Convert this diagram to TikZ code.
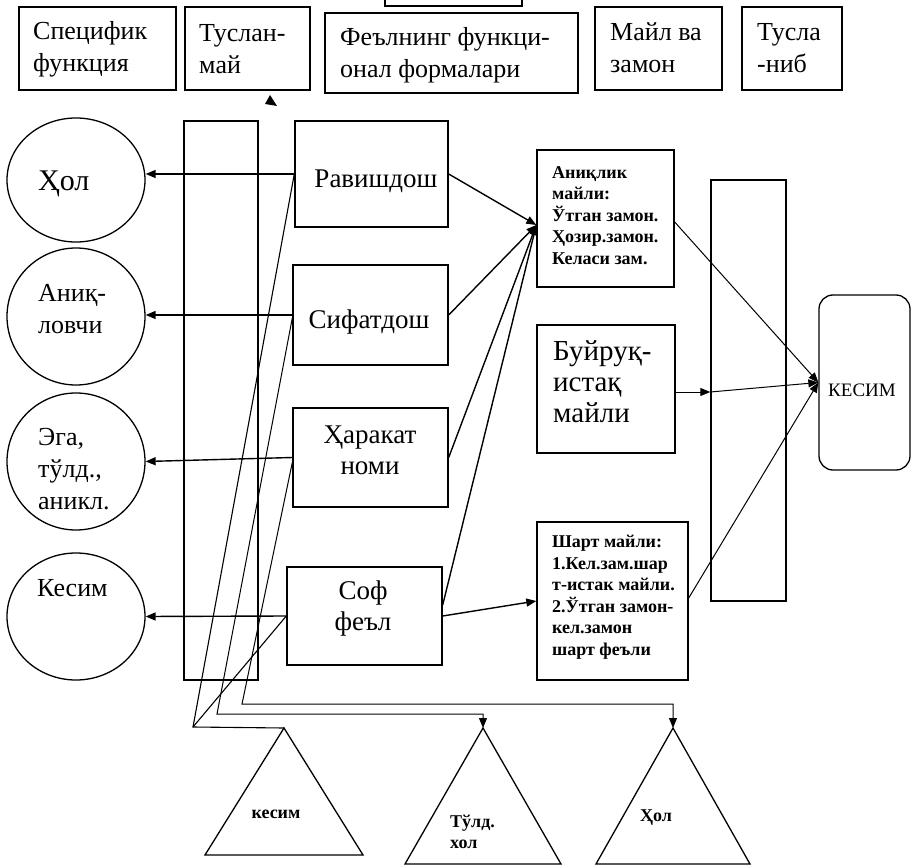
\documentclass[tikz,border=0pt]{standalone}
\usepackage{fontspec}
\setmainfont{Liberation Serif}
\usetikzlibrary{shapes.geometric,arrows.meta}
\begin{document}
\begin{tikzpicture}[x=1pt,y=-1pt,
  box/.style={draw, line width=1.4pt, rectangle, inner sep=0pt},
  circ/.style={draw, line width=1.3pt, ellipse, inner sep=0pt},
  txt/.style={inner sep=0pt, align=left},
  ctxt/.style={inner sep=0pt, align=center},
  big/.style={font=\fontsize{26}{32}\selectfont},
  mid/.style={font=\fontsize{27}{31}\selectfont},
  sml/.style={font=\bfseries\fontsize{18}{21.5}\selectfont},
  conn/.style={line width=1.1pt},
  arr/.style={line width=1.4pt, -{Triangle[length=10pt,width=8pt]}},
  tarr/.style={line width=1pt, -{Triangle[length=10pt,width=8pt]}}
]
\useasboundingbox (0,0) rectangle (915,866);
\clip (0,0) rectangle (915,866);

% top row
\node[box, minimum width=157pt, minimum height=83pt] (spec) at (97.5,48.5) {};
\node[txt, big, anchor=west] (specT) at (33,49) {Специфик\\функция};
\node[box, minimum width=125pt, minimum height=83pt] (tusl) at (247.5,48.5) {};
\node[txt, big, anchor=west] (tuslT) at (199,49) {Туслан-\\май};
\node[box, minimum width=253pt, minimum height=80pt] (feol) at (451.5,53) {};
\node[txt, big, anchor=west] (feolT) at (340,55) {Феълнинг функци-\\онал формалари};
\node[box, minimum width=127pt, minimum height=83pt] (mayl) at (658.5,48.5) {};
\node[txt, big, anchor=west] (maylT) at (610,48) {Майл ва\\замон};
\node[box, minimum width=100pt, minimum height=83pt] (nib) at (792,48.5) {};
\node[txt, big, anchor=west] (nibT) at (757,48) {Тусла\\-ниб};
\node[box, minimum width=137pt, minimum height=40pt] (topbox) at (453.5,-14) {};
\fill (270,95) -- (277,106) -- (265,104) -- cycle;

% circles
\node[circ, minimum width=138pt, minimum height=124pt] (hol) at (76,180) {};
\node[txt, font=\fontsize{30}{34}\selectfont, anchor=west] (holT) at (38,184) {Ҳол};
\node[circ, minimum width=138pt, minimum height=137pt] (ank) at (76,316.5) {};
\node[txt, big, anchor=west] (ankT) at (38,309) {Аниқ-\\ловчи};
\node[circ, minimum width=138pt, minimum height=137pt] (ega) at (76,461.5) {};
\node[txt, big, anchor=west] (egaT) at (38,469) {Эга,\\тўлд.,\\аникл.};
\node[circ, minimum width=138pt, minimum height=127pt] (kes) at (76,616.5) {};
\node[txt, big, anchor=west] (kesT) at (37,588) {Кесим};

% columns
\node[box, line width=1.2pt, minimum width=74pt, minimum height=559pt] (lcol) at (221,400.5) {};
\node[box, minimum width=75pt, minimum height=421pt] (rcol) at (748.5,390.5) {};

% middle boxes
\node[box, minimum width=153pt, minimum height=106pt] (rav) at (371.5,174) {};
\node[ctxt, mid] (ravT) at (376,181) {Равишдош};
\node[box, minimum width=155pt, minimum height=100pt] (sif) at (370.5,315) {};
\node[ctxt, mid] (sifT) at (369,322) {Сифатдош};
\node[box, minimum width=155pt, minimum height=99pt] (har) at (370.5,457.5) {};
\node[ctxt, mid] (harT) at (370,450) {Ҳаракат\\номи};
\node[box, minimum width=155pt, minimum height=98pt] (sof) at (364.5,616) {};
\node[ctxt, mid] (sofT) at (363,609) {Соф\\феъл};

% right boxes
\node[box, minimum width=137pt, minimum height=137pt] (aniq) at (605.5,218.5) {};
\node[txt, sml, anchor=west] (aniqT) at (552,215.5) {Аниқлик\\майли:\\Ўтган замон.\\Ҳозир.замон.\\Келаси зам.};
\node[box, minimum width=138pt, minimum height=128pt] (buy) at (606,389) {};
\node[txt, font=\fontsize{29}{31}\selectfont, anchor=west] (buyT) at (553,382) {Буйруқ-\\истақ\\майли};
\node[box, minimum width=151pt, minimum height=158pt] (shart) at (612.5,601) {};
\node[txt, sml, anchor=west] (shartT) at (552,597) {Шарт майли:\\1.Кел.зам.шар\\т-истак майли.\\2.Ўтган замон-\\кел.замон\\шарт феъли};
\node[draw, rectangle, rounded corners=14pt, line width=1.3pt, minimum width=91pt, minimum height=175pt, inner sep=0pt] (KES) at (864.5,382.5) {};
\node[ctxt, font=\fontsize{19}{22}\selectfont] (KEST) at (862,390) {КЕСИМ};

% triangles
\coordinate (t1) at (284,728);
\draw[line width=1.3pt] (t1) -- (205,855) -- (363,855) -- cycle;
\node[ctxt, sml] (t1T) at (276,814) {кесим};
\coordinate (t2) at (483,728);
\draw[line width=1.3pt] (t2) -- (405,864) -- (561,864) -- cycle;
\node[txt, sml, anchor=west] (t2T) at (450,832) {Тўлд.\\хол};
\coordinate (t3) at (673,728);
\draw[line width=1.3pt] (t3) -- (596,864) -- (750,864) -- cycle;
\node[ctxt, sml] (t3T) at (656,818) {Ҳол};

% arrows to circles
\draw[arr] (rav.west) -- (rav.west -| hol.east);
\draw[arr] (sif.west) -- (sif.west -| ank.east);
\draw[arr] (har.west) -- (ega.east);
\draw[arr] (sof.west) -- (kes.east);

% arrows to Aniqlik
\coordinate (aqin) at ([yshift=-6.5pt]aniq.west);
\draw[arr] (rav.east) -- (aqin);
\draw[arr] (sif.east) -- (aqin);
\draw[arr] (har.east) -- (aqin);
\draw[arr] ([yshift=11pt]sof.east) -- (aqin);
\draw[arr] (sof.east) -- (shart.west);

% arrows to KESIM
\draw[tarr] ([yshift=-3.5pt]aniq.east) -- (KES.west);
\coordinate (bo) at ([yshift=-3pt]buy.east);
\draw[tarr] (bo) -- (bo -| rcol.west);
\draw[tarr] (bo -| rcol.west) -- (KES.west);
\draw[tarr] ([yshift=3pt]shart.east) -- (KES.west);

% bottom connectors
\coordinate (c1) at (193,727);
\coordinate (c2) at (217,714);
\coordinate (c3) at (242,704);
\draw[conn] (rav.west) -- (c1) -- (t1);
\draw[conn] (sof.west) -- (c1);
\draw[tarr] ([yshift=-3pt]sif.west) -- (c2) -- (c2 -| t2) -- (t2);
\draw[tarr] ([yshift=-5pt]har.west) -- (c3) -- (c3 -| t3) -- (t3);
\end{tikzpicture}
\end{document}
